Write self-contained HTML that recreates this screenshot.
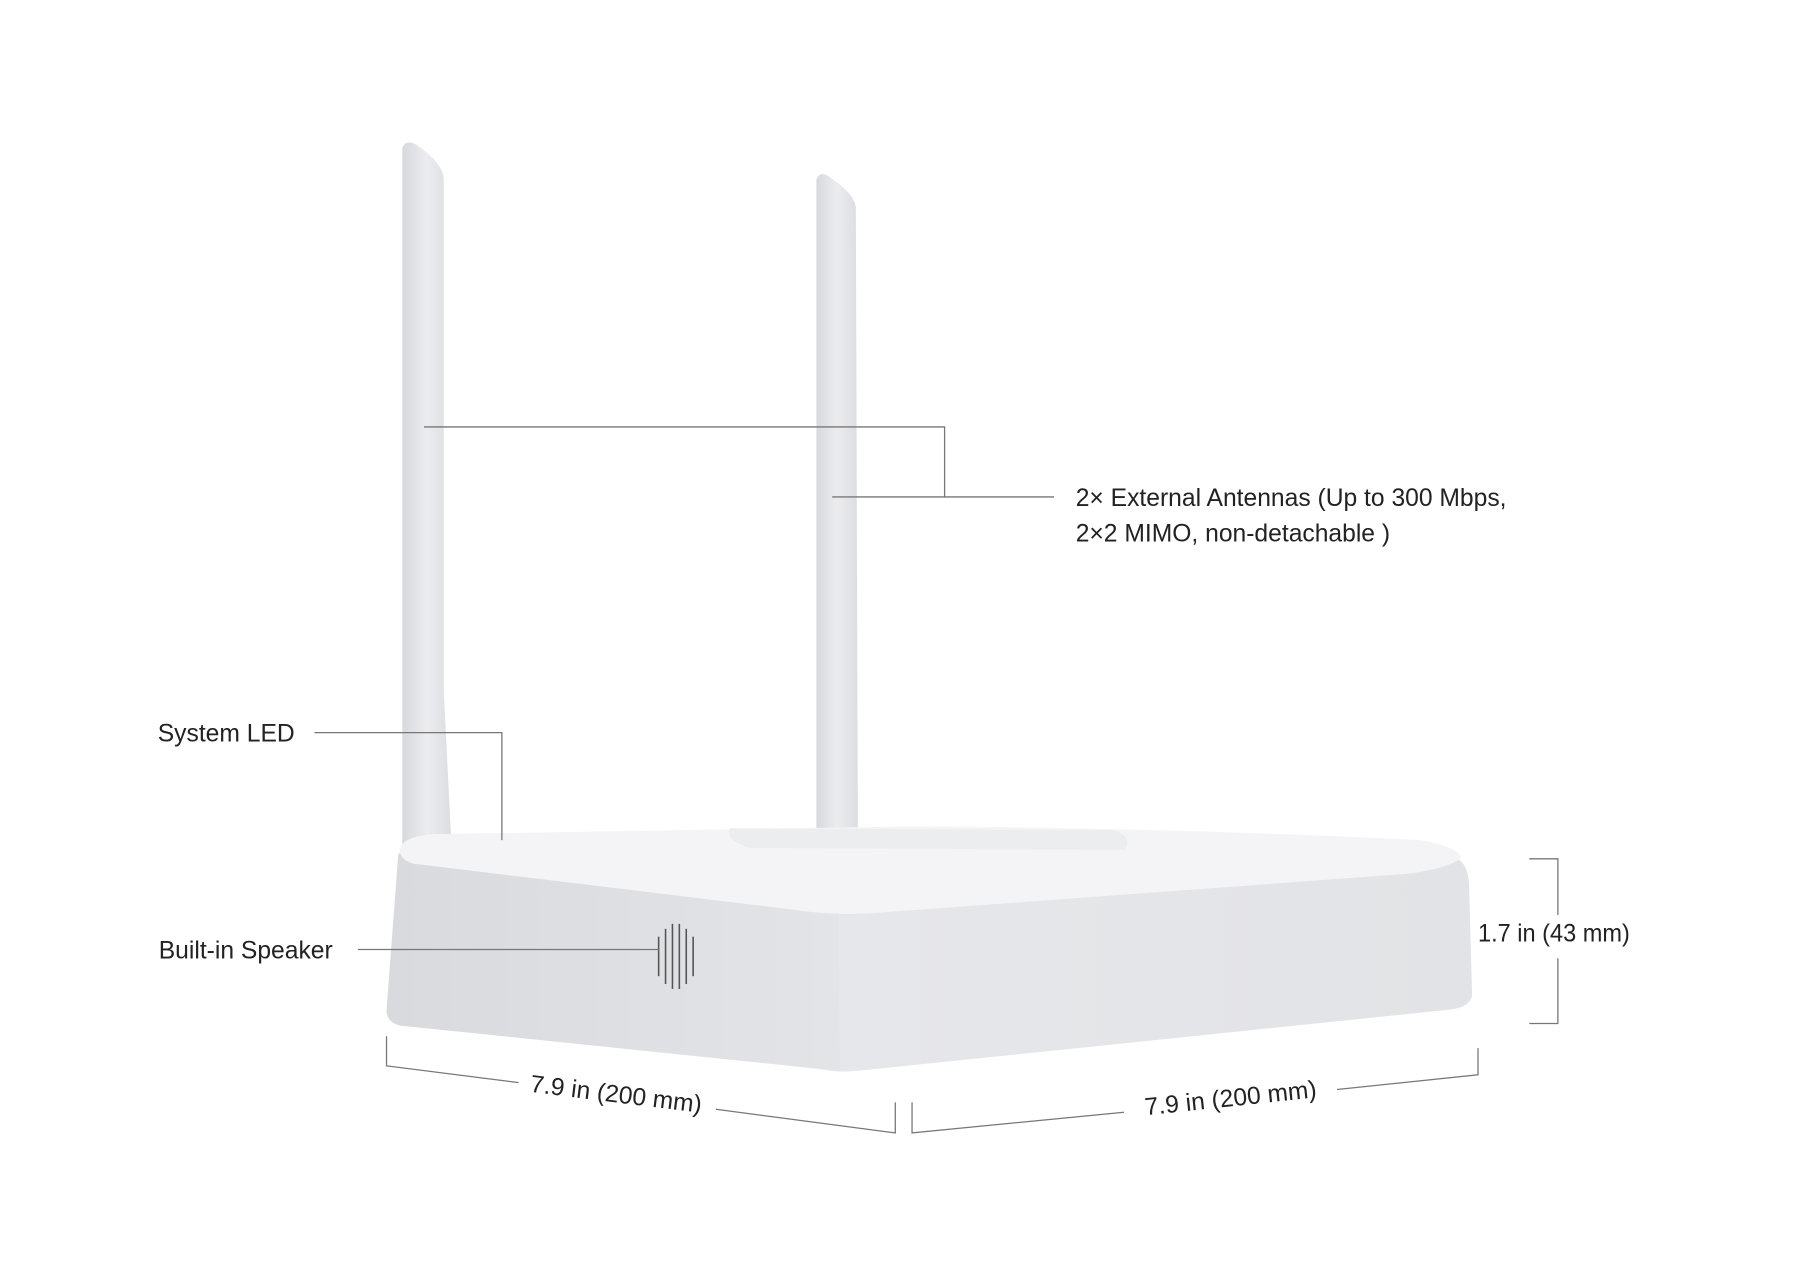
<!DOCTYPE html>
<html><head><style>
html,body{margin:0;padding:0;background:#fff;}
svg{display:block;}
text{font-family:"Liberation Sans",sans-serif;fill:#222;font-size:25px;}
</style></head><body>
<svg width="1820" height="1276" viewBox="0 0 1820 1276" xmlns="http://www.w3.org/2000/svg">
<defs>
<linearGradient id="ant" x1="0" x2="1"><stop offset="0" stop-color="#d8d9dd"/><stop offset="0.5" stop-color="#ececef"/><stop offset="1" stop-color="#dcdde1"/></linearGradient>
<linearGradient id="lf" x1="0" x2="1"><stop offset="0" stop-color="#d9dade"/><stop offset="1" stop-color="#e3e4e7"/></linearGradient>
<linearGradient id="rf" x1="0" x2="1"><stop offset="0" stop-color="#e9eaed"/><stop offset="1" stop-color="#e2e3e6"/></linearGradient>
</defs>
<g transform="scale(0.986)">
<path d="M408,150 Q412,140 424,148 Q448,165 450,180 L450,700 Q454,780 458,860 L408,860 Z" fill="url(#ant)"/>
<path d="M828,182 Q832,172 842,180 Q866,196 868,210 L870,842 L828,842 Z" fill="url(#ant)"/>
<path d="M404,866 Q404,862 420,868 L850,925 L1480,872 Q1490,880 1490,900 L1493,1010 Q1490,1022 1470,1024 L870,1086 Q850,1088 830,1084 L405,1040 Q392,1036 392,1025 Z" fill="url(#rf)"/>
<path d="M404,866 L850,925 L852,1086 L405,1040 Q392,1036 392,1025 Z" fill="url(#lf)"/>
<path d="M406,860 Q410,848 440,846 L930,838 Q1200,840 1440,852 Q1478,858 1482,870 Q1470,880 1430,886 L900,925 Q850,930 800,922 L420,876 Q404,872 406,860 Z" fill="#f4f4f6"/>
<path d="M740,840 L1130,842 Q1150,850 1140,862 L760,860 Q735,852 740,840 Z" fill="#ecedef"/>
<g stroke="#555" stroke-width="1.6" fill="none">
<line x1="668" y1="950" x2="668" y2="990"/><line x1="675" y1="942" x2="675" y2="998"/><line x1="682" y1="937" x2="682" y2="1003"/><line x1="689" y1="937" x2="689" y2="1003"/><line x1="696" y1="942" x2="696" y2="998"/><line x1="703" y1="950" x2="703" y2="990"/>
</g>
<g stroke="#777" stroke-width="1.3" fill="none">
<polyline points="430,433 958,433 958,504 1069,504"/>
<line x1="844" y1="504" x2="958" y2="504"/>
<polyline points="319,743 509,743 509,852"/>
<line x1="363" y1="963" x2="668" y2="963"/>
<polyline points="1551,871 1580,871 1580,928"/>
<polyline points="1580,972 1580,1038 1551,1038"/>
<polyline points="392,1051 392,1081 526,1098"/>
<polyline points="726,1125 908,1149 908,1118"/>
<polyline points="925,1118 925,1149 1140,1128"/>
<polyline points="1356,1105 1499,1090 1499,1063"/>
</g>
<text x="1091" y="513">2× External Antennas (Up to 300 Mbps,</text>
<text x="1091" y="549">2×2 MIMO, non-detachable )</text>
<text x="160" y="752">System LED</text>
<text x="161" y="972">Built-in Speaker</text>
<text x="1499" y="955" textLength="154" lengthAdjust="spacingAndGlyphs">1.7 in (43 mm)</text>
<text x="625" y="1118" text-anchor="middle" transform="rotate(7 625 1109)">7.9 in (200 mm)</text>
<text x="1248" y="1122" text-anchor="middle" transform="rotate(-6 1248 1113)">7.9 in (200 mm)</text>
</g>
</svg>
</body></html>
